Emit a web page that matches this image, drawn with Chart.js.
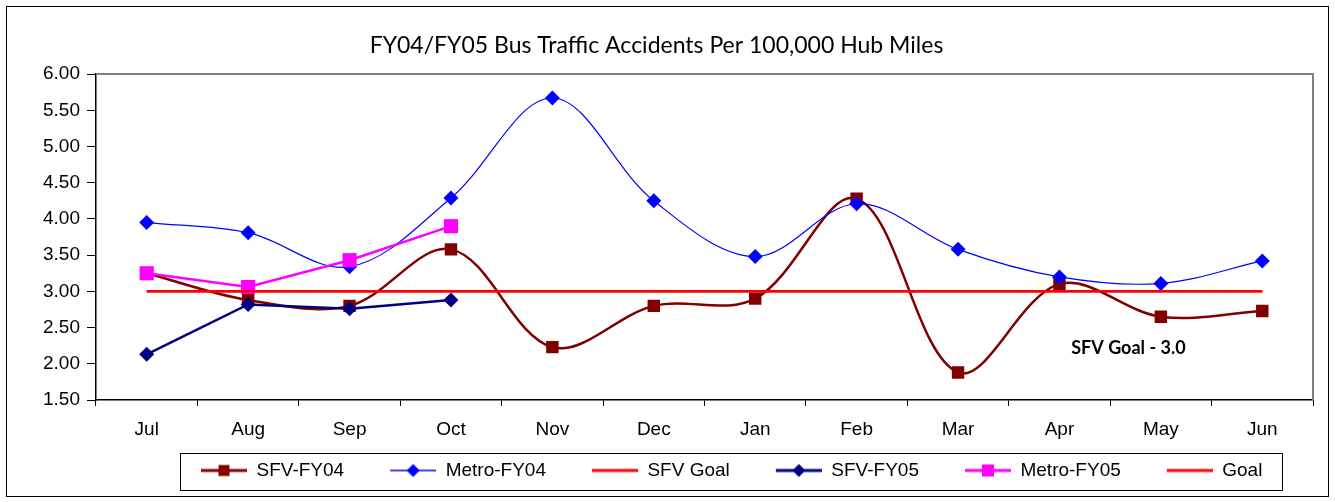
<!DOCTYPE html>
<html>
<head>
<meta charset="utf-8">
<title>FY04/FY05 Bus Traffic Accidents</title>
<script src="https://cdn.jsdelivr.net/npm/chart.js@4.4.0/dist/chart.umd.min.js"></script>
<style>
  html, body { margin: 0; padding: 0; background: #fff; }
</style>
</head>
<body>
<canvas id="accChart" width="1335" height="502"></canvas>
<script>
const months = ['Jul', 'Aug', 'Sep', 'Oct', 'Nov', 'Dec', 'Jan', 'Feb', 'Mar', 'Apr', 'May', 'Jun'];
const sfvFY04 = [3.25, 2.88, 2.80, 3.58, 2.23, 2.80, 2.90, 4.28, 1.88, 3.10, 2.65, 2.73];
const metroFY04 = [3.95, 3.81, 3.34, 4.29, 5.67, 4.25, 3.48, 4.21, 3.58, 3.20, 3.11, 3.42];
const sfvGoal = [3.0, 3.0, 3.0, 3.0, 3.0, 3.0, 3.0, 3.0, 3.0, 3.0, 3.0, 3.0];
const sfvFY05 = [2.13, 2.82, 2.76, 2.88];
const metroFY05 = [3.25, 3.06, 3.43, 3.90];
const goal = [3.0, 3.0, 3.0, 3.0, 3.0, 3.0, 3.0, 3.0, 3.0, 3.0, 3.0, 3.0];
const yMin = 1.5, yMax = 6.0, yStep = 0.5;
const goalNote = 'SFV Goal - 3.0';

const axisFont = { family: 'Liberation Sans', size: 19 };
const SYM_W = 82, LEG_PAD = 10;

// little line+marker pictures for the legend, like excel draws them
function legendSymbol(color, width, marker, size) {
    const c = document.createElement('canvas');
    c.width = SYM_W; c.height = 20;
    const g = c.getContext('2d');
    const x0 = SYM_W - 46, cx = SYM_W - 23, cy = 10;
    g.strokeStyle = color;
    g.lineWidth = width;
    g.beginPath(); g.moveTo(x0, cy); g.lineTo(SYM_W, cy); g.stroke();
    g.fillStyle = color;
    if (marker === 'square') {
        g.fillRect(cx - size / 2, cy - size / 2, size, size);
    } else if (marker === 'diamond') {
        g.beginPath();
        g.moveTo(cx, cy - size / 2); g.lineTo(cx + size / 2, cy);
        g.lineTo(cx, cy + size / 2); g.lineTo(cx - size / 2, cy);
        g.closePath(); g.fill();
    }
    return c;
}

const symbols = [
    legendSymbol('#800000', 3, 'square', 11),
    legendSymbol('#0000ff', 1.5, 'diamond', 13),
    legendSymbol('#ff0000', 3, null, 0),
    legendSymbol('#000080', 3, 'diamond', 13),
    legendSymbol('#ff00ff', 3, 'square', 12),
    legendSymbol('#ff0000', 3, null, 0)
];

const framePlugin = {
    id: 'framePlugin',
    afterLayout(chart) {
        // excel legend sits a bit right of centre
        const lg = chart.legend;
        const dx = 155 - lg.left;
        lg.left += dx;
        lg.right += dx;
    },
    beforeDraw(chart) {
        const ctx = chart.ctx;
        ctx.save();
        ctx.fillStyle = '#fff';
        ctx.fillRect(0, 0, chart.width, chart.height);
        ctx.strokeStyle = '#000';
        ctx.lineWidth = 1;
        ctx.strokeRect(6.5, 6.5, chart.width - 13, chart.height - 12);
        ctx.restore();
    },
    beforeDatasetsDraw(chart) {
        const { ctx, chartArea: a } = chart;
        ctx.save();
        ctx.strokeStyle = '#808080';
        ctx.lineWidth = 2;
        ctx.beginPath();
        ctx.moveTo(a.left, a.top);
        ctx.lineTo(a.right, a.top);
        ctx.lineTo(a.right, a.bottom);
        ctx.stroke();
        ctx.restore();
    },
    afterDatasetsDraw(chart) {
        const { ctx, scales } = chart;
        ctx.save();
        ctx.fillStyle = '#000';
        ctx.font = 'bold 18px Lato';
        ctx.textAlign = 'center';
        ctx.textBaseline = 'middle';
        ctx.fillText(goalNote, scales.x.getPixelForValue(9.68), scales.y.getPixelForValue(2.22));
        ctx.restore();
    },
    afterDraw(chart) {
        const { ctx } = chart;
        const lg = chart.legend;
        const cy = lg.top + LEG_PAD + axisFont.size / 2;
        const x0 = lg.left + LEG_PAD + (SYM_W - 46) - 21;
        const x1 = lg.left + lg.lineWidths[0] + 20;
        ctx.save();
        ctx.strokeStyle = '#000';
        ctx.lineWidth = 1;
        ctx.strokeRect(Math.round(x0) + 0.5, Math.round(cy - 18) + 0.5, Math.round(x1 - x0), 37);
        ctx.restore();
    }
};

const ctx = document.getElementById('accChart').getContext('2d');
const accChart = new Chart(ctx, {
    type: 'line',
    data: {
        labels: months,
        datasets: [
            {
                label: 'SFV-FY04', data: sfvFY04, order: 6,
                borderColor: '#800000', backgroundColor: '#800000', borderWidth: 2.5,
                tension: 0.35, pointStyle: 'rect', pointRadius: 8.8, pointBorderWidth: 0
            },
            {
                label: 'Metro-FY04', data: metroFY04, order: 5,
                borderColor: '#0000ff', backgroundColor: '#0000ff', borderWidth: 1.2,
                tension: 0.35, pointStyle: 'rectRot', pointRadius: 7.5, pointBorderWidth: 0
            },
            {
                label: 'SFV Goal', data: sfvGoal, order: 4,
                borderColor: '#ff0000', backgroundColor: '#ff0000', borderWidth: 2.5,
                tension: 0, pointRadius: 0
            },
            {
                label: 'SFV-FY05', data: sfvFY05, order: 3,
                borderColor: '#000080', backgroundColor: '#000080', borderWidth: 2.5,
                tension: 0, pointStyle: 'rectRot', pointRadius: 7.5, pointBorderWidth: 0
            },
            {
                label: 'Metro-FY05', data: metroFY05, order: 2,
                borderColor: '#ff00ff', backgroundColor: '#ff00ff', borderWidth: 2.5,
                tension: 0, pointStyle: 'rect', pointRadius: 10, pointBorderWidth: 0
            },
            {
                label: 'Goal', data: goal, order: 1,
                borderColor: '#ff0000', backgroundColor: '#ff0000', borderWidth: 2.5,
                tension: 0, pointRadius: 0
            }
        ]
    },
    options: {
        responsive: false,
        animation: false,
        layout: { padding: { left: 0, right: 22, top: 0, bottom: 12 } },
        plugins: {
            title: {
                display: true,
                text: 'FY04/FY05 Bus Traffic Accidents Per 100,000 Hub Miles',
                color: '#000',
                font: { family: 'Lato', size: 23, weight: 'normal' },
                padding: { top: 32, bottom: 14.5 }
            },
            legend: {
                position: 'bottom',
                align: 'start',
                labels: {
                    color: '#000',
                    font: axisFont,
                    padding: LEG_PAD,
                    usePointStyle: true,
                    pointStyleWidth: SYM_W,
                    sort: (a, b) => a.datasetIndex - b.datasetIndex,
                    generateLabels: (chart) => {
                        const items = Chart.defaults.plugins.legend.labels.generateLabels(chart);
                        items.forEach(it => { it.pointStyle = symbols[it.datasetIndex]; });
                        return items;
                    }
                }
            },
            tooltip: { enabled: false }
        },
        scales: {
            x: {
                offset: true,
                grid: { display: true, offset: true, drawOnChartArea: false, drawTicks: true, tickLength: 6, color: '#000' },
                border: { display: true, color: '#000', width: 1.5 },
                ticks: { color: '#000', font: axisFont, padding: 12.6 },
                afterFit: (scale) => { scale.height = 51; }
            },
            y: {
                min: yMin,
                max: yMax,
                grid: { display: true, drawOnChartArea: false, drawTicks: true, tickLength: 9, color: '#000' },
                border: { display: true, color: '#000', width: 1.5 },
                ticks: { stepSize: yStep, color: '#000', font: axisFont, padding: 7, callback: v => v.toFixed(2) },
                afterFit: (scale) => { scale.width = 96; }
            }
        }
    },
    plugins: [framePlugin]
});
</script>
</body>
</html>
